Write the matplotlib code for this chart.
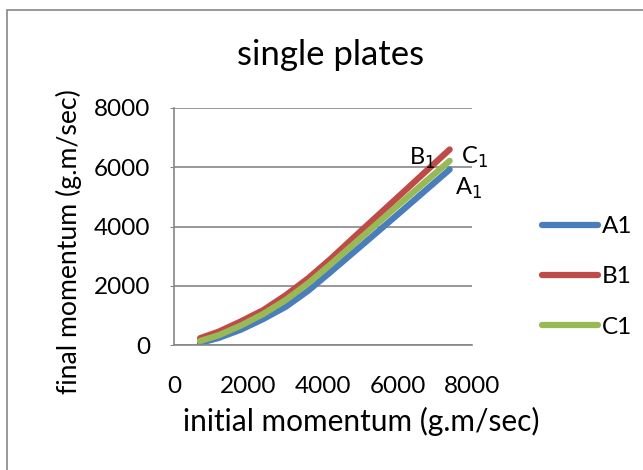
import matplotlib
matplotlib.use("Agg")
import matplotlib.pyplot as plt
from matplotlib.patches import Rectangle

plt.rcParams['font.family'] = ['Lato', 'DejaVu Sans']

x_vals = [700, 1200, 1800, 2400, 3000, 3600, 4200, 5000, 6000, 7400]
a1 = [70, 240, 520, 880, 1290, 1830, 2460, 3320, 4400, 5925]
b1 = [230, 450, 800, 1180, 1680, 2250, 2900, 3830, 4980, 6600]
c1 = [135, 330, 660, 1050, 1520, 2080, 2720, 3600, 4700, 6216]
series_names = ['A1', 'B1', 'C1']
colors = ['#4A7EBB', '#BE4B48', '#98B954']
yticks = [0, 2000, 4000, 6000, 8000]
xticks = [0, 2000, 4000, 6000, 8000]

fig = plt.figure(figsize=(6.43, 4.70), dpi=100)
fig.patches.append(Rectangle((7/643, -0.1), 1.2, (470-10)/470 + 0.1,
                             transform=fig.transFigure, fill=False,
                             edgecolor='#878787', linewidth=1.2))

ax = fig.add_axes([174/643, 1-345/470, (472-174)/643, (345-108)/470])
for ys, name, col in zip([a1, b1, c1], series_names, colors):
    ax.plot(x_vals, ys, color=col, linewidth=4.5, solid_capstyle='round',
            solid_joinstyle='round', label=name)

ax.set_xlim(0, 8000)
ax.set_ylim(0, 8000)
ax.set_xticks(xticks)
ax.set_yticks(yticks)
ax.yaxis.grid(True, color='#868686', linewidth=1.2)
ax.set_axisbelow(True)
for s in ['top', 'right']:
    ax.spines[s].set_visible(False)
for s in ['left', 'bottom']:
    ax.spines[s].set_color('#868686')
    ax.spines[s].set_linewidth(1.2)
ax.tick_params(axis='both', colors='#868686', length=3, labelsize=17.5, labelcolor='black')
ax.tick_params(axis='x', length=0, pad=22)
ax.tick_params(axis='y', pad=14)

fig.text(331/643, 1-55/470, 'single plates', fontsize=25, ha='center', va='center')
ax.set_xlabel('initial momentum (g.m/sec)', fontsize=21.5)
ax.xaxis.set_label_coords(0.628, -0.26)
ax.set_ylabel('final momentum (g.m/sec)', fontsize=19.2)
ax.yaxis.set_label_coords(-0.31, 0.435)

ax.text(6300, 5880, 'B$_1$', fontsize=17, ha='left', va='bottom')
ax.text(7700, 5900, 'C$_1$', fontsize=17, ha='left', va='bottom')
ax.text(7550, 4850, 'A$_1$', fontsize=17, ha='left', va='bottom')

leg = ax.legend(loc='center left', bbox_to_anchor=(1.235, 0.287), frameon=False,
                fontsize=17.5, handlelength=2.3, labelspacing=1.2, handletextpad=0.15,
                borderaxespad=0, borderpad=0)
for line in leg.get_lines():
    line.set_linewidth(4.5)
    line.set_solid_capstyle('round')

fig.savefig('out.png', dpi=100)
